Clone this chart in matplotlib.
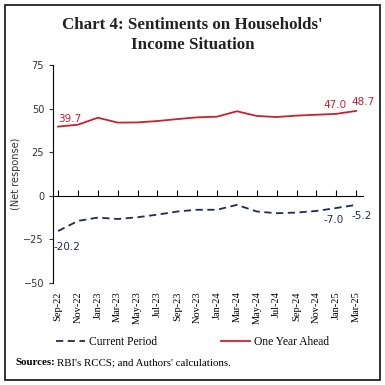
import matplotlib.pyplot as plt
import numpy as np
from matplotlib.patches import Rectangle

months = ['Sep-22', 'Nov-22', 'Jan-23', 'Mar-23', 'May-23', 'Jul-23', 'Sep-23', 'Nov-23',
          'Jan-24', 'Mar-24', 'May-24', 'Jul-24', 'Sep-24', 'Nov-24', 'Jan-25', 'Mar-25']
current_period = [-20.2, -14.4, -12.5, -13.3, -12.3, -10.8, -9.0, -8.0,
                  -8.0, -5.2, -9.0, -10.0, -9.6, -8.7, -7.0, -5.2]
one_year_ahead = [39.7, 40.8, 44.8, 42.0, 42.1, 42.9, 44.0, 45.0,
                  45.4, 48.5, 45.8, 45.2, 46.0, 46.5, 47.0, 48.7]

RED = '#C8202F'
BLUE = '#1F2A5C'
SERIF = 'Liberation Serif'


def main():
    fig = plt.figure(figsize=(3.85, 3.85), dpi=100)
    ax = fig.add_axes([0.138, 0.265, 0.805, 0.566])
    x = np.arange(len(months))

    ax.plot(x, current_period, color=BLUE, lw=1.3, ls=(0, (4, 2.5)), label='Current Period')
    ax.plot(x, one_year_ahead, color=RED, lw=1.3, label='One Year Ahead')

    ax.set_ylim(-50, 75)
    ax.set_xlim(-0.25, 15.35)
    ax.set_yticks([-50, -25, 0, 25, 50, 75])
    ax.tick_params(axis='y', labelsize=7, colors='#333333', length=3, width=0.8)
    ax.set_ylabel('(Net response)', fontsize=7, color='#333333', labelpad=2)

    ax.set_xticks(x, months, rotation=90, fontsize=7.5, family=SERIF)
    ax.tick_params(axis='x', length=0, pad=6)
    for s in ['top', 'right', 'bottom']:
        ax.spines[s].set_visible(False)
    ax.spines['left'].set_linewidth(0.8)

    # zero line with tick marks
    sec = ax.secondary_xaxis(0.4)
    sec.set_xticks(x, [''] * len(x))
    sec.tick_params(direction='in', length=4, width=0.8)
    sec.spines['bottom'].set_linewidth(0.8)

    # value labels
    ax.annotate(f'{one_year_ahead[0]:.1f}', (x[0], one_year_ahead[0]), xytext=(0, 3),
                textcoords='offset points', color=RED, fontsize=7.5)
    ax.annotate(f'{one_year_ahead[-2]:.1f}', (x[-2], one_year_ahead[-2]), xytext=(-9, 4),
                textcoords='offset points', color=RED, fontsize=7.5)
    ax.annotate(f'{one_year_ahead[-1]:.1f}', (x[-1], one_year_ahead[-1]), xytext=(-3, 4),
                textcoords='offset points', color=RED, fontsize=7.5)
    ax.annotate(f'{current_period[0]:.1f}', (x[0], current_period[0]), xytext=(-3, -14),
                textcoords='offset points', color=BLUE, fontsize=7.5)
    ax.annotate(f'{current_period[-2]:.1f}', (x[-2], current_period[-2]), xytext=(-9, -11),
                textcoords='offset points', color=BLUE, fontsize=7.5)
    ax.annotate(f'{current_period[-1]:.1f}', (x[-1], current_period[-1]), xytext=(-3, -10),
                textcoords='offset points', color=BLUE, fontsize=7.5)

    fig.legend(loc='center', bbox_to_anchor=(0.5, 0.112), ncol=2, frameon=False,
               prop={'family': SERIF, 'size': 8.3}, handlelength=2.5, handletextpad=0.4,
               columnspacing=5.5)

    fig.text(0.5, 0.935, "Chart 4: Sentiments on Households'", ha='center', va='center',
             fontsize=12.2, fontweight='bold', family=SERIF, color='#222222')
    fig.text(0.5, 0.882, 'Income Situation', ha='center', va='center',
             fontsize=12.2, fontweight='bold', family=SERIF, color='#222222')

    fig.text(0.04, 0.058, 'Sources:', fontsize=7.8, fontweight='bold', family=SERIF, va='center')
    fig.text(0.148, 0.058, "RBI's RCCS; and Authors' calculations.", fontsize=7.8,
             family=SERIF, va='center')

    fig.patches.append(Rectangle((0.013, 0.013), 0.974, 0.974, transform=fig.transFigure,
                                 fill=False, lw=1.3, ec='#222222'))

    fig.savefig('out.png', dpi=100)


if __name__ == '__main__':
    main()
